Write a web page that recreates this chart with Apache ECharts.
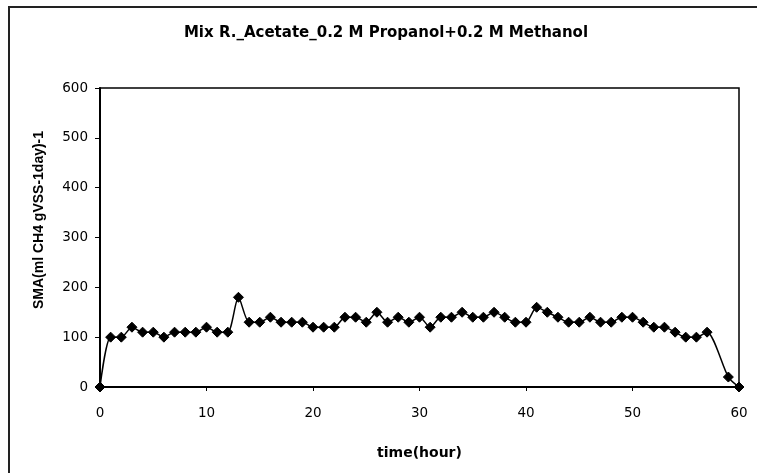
<!DOCTYPE html>
<html>
<head>
<meta charset="utf-8">
<script src="https://cdn.jsdelivr.net/npm/echarts@6/dist/echarts.min.js"></script>
<style>
html,body{margin:0;padding:0;background:#fff;}
#chart{width:757px;height:473px;}
</style>
</head>
<body>
<div id="chart"></div>
<script>
var titleText = 'Mix R._Acetate_0.2 M Propanol+0.2 M Methanol';
var xName = 'time(hour)';
var yName = 'SMA(ml CH4 gVSS-1day)-1';
var hours = [0,1,2,3,4,5,6,7,8,9,10,11,12,13,14,15,16,17,18,19,20,21,22,23,24,25,26,27,28,29,30,31,32,33,34,35,36,37,38,39,40,41,42,43,44,45,46,47,48,49,50,51,52,53,54,55,56,57,59,60];
var sma = [0,100,100,120,110,110,100,110,110,110,
           120,110,110,180,130,130,140,130,130,130,
           120,120,120,140,140,130,150,130,140,130,
           140,120,140,140,150,140,140,150,140,130,
           130,160,150,140,130,130,140,130,130,140,
           140,130,120,120,110,100,100,110,20,0];

var points = hours.map(function(h, i){ return [h, sma[i]]; });

var chart = echarts.init(document.getElementById('chart'), null, {renderer:'canvas'});
chart.setOption({
  animation: false,
  backgroundColor: '#fff',
  title: {
    text: titleText,
    left: 386,
    top: 26,
    textAlign: 'center',
    padding: 0,
    textStyle: {fontFamily: 'DejaVu Sans', fontSize: 15, fontWeight: 'bold', color: '#000'}
  },
  graphic: [
    {type:'rect', shape:{x:9, y:7, width:800, height:520}, style:{fill:'none', stroke:'#222', lineWidth:2}, silent:true},
    {type:'text', x:39, y:220, rotation: Math.PI/2,
     style:{text: yName, fontFamily:'Liberation Sans, Arial', fontSize:14, fontWeight:'bold', fill:'#000', textAlign:'center', textVerticalAlign:'middle'}}
  ],
  grid: {left:100, right:18, top:88, bottom:86, show:true, borderColor:'#000', borderWidth:1.5, backgroundColor:'transparent'},
  xAxis: {
    type:'value', min:0, max:60, interval:10,
    name: xName, nameLocation:'middle', nameGap:59,
    nameTextStyle:{fontFamily:'DejaVu Sans', fontSize:14, fontWeight:'bold', color:'#000'},
    axisLine:{show:true, lineStyle:{color:'#000', width:2}},
    axisTick:{show:true, length:4, inside:false, lineStyle:{color:'#000', width:1}},
    axisLabel:{fontFamily:'DejaVu Sans', fontSize:13.5, color:'#000', margin:19},
    splitLine:{show:false}
  },
  yAxis: {
    type:'value', min:0, max:600, interval:100,
    axisLine:{show:true, lineStyle:{color:'#000', width:2}},
    axisTick:{show:true, length:5, inside:false, lineStyle:{color:'#000', width:1}},
    axisLabel:{fontFamily:'DejaVu Sans', fontSize:13.5, color:'#000', margin:12},
    splitLine:{show:false}
  },
  series: [{
    type:'line',
    data: points,
    smooth: 0.25,
    symbol:'diamond',
    symbolSize:10,
    showAllSymbol:true,
    lineStyle:{color:'#000', width:1.5},
    itemStyle:{color:'#000', borderColor:'#000'},
    clip:false
  }]
});
</script>
</body>
</html>
